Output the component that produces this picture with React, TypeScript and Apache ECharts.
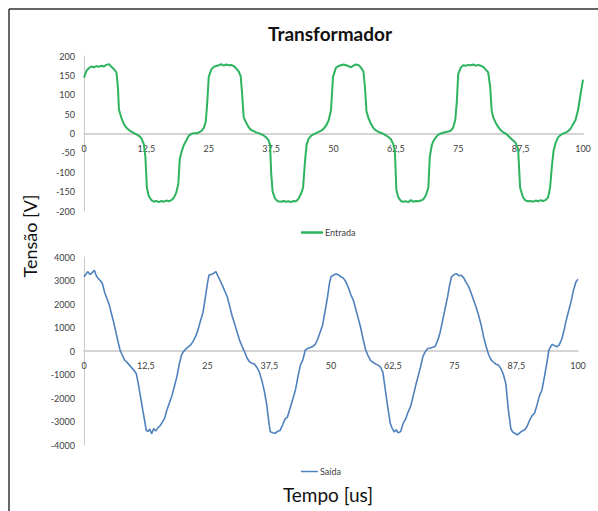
import React, { useEffect, useRef } from "react";
import * as echarts from "echarts";

const TITLE = "Transformador";
const Y_NAME = "Tensão [V]";
const X_NAME = "Tempo [us]";
const SERIES_NAMES = ["Entrada", "Saída"];

const X_MIN = 0;
const X_MAX = 100;
const X_STEP = 12.5;
const TOP_Y = [-200, 200, 50];
const BOT_Y = [-4000, 4000, 1000];

// Entrada: time [us] and voltage [V]
const entradaT = [
  0, 0.5, 1, 1.5, 2, 2.5, 3, 3.5, 4, 4.5, 5, 5.5, 6, 6.5, 6.8, 7, 7.5, 8, 8.5, 9, 9.5, 10, 10.5, 11, 11.5, 12, 12.3, 12.6, 13, 13.5, 14, 14.5, 15, 15.5, 16, 16.5, 17, 17.5, 18, 18.5, 18.9, 19.2, 19.6, 20, 20.5, 21, 21.5, 22, 22.5, 23, 23.5, 24, 24.4, 24.7,
  25, 25.5, 26, 26.5, 27, 27.5, 28, 28.5, 29, 29.5, 30, 30.5, 31, 31.4, 31.7, 32, 32.5, 33, 33.5, 34, 34.5, 35, 35.5, 36, 36.5, 37, 37.3, 37.5, 37.8, 38.3, 38.8, 39.5, 40, 40.5, 41, 41.5, 42, 42.5, 43, 43.5, 43.9, 44.3, 44.6, 45, 45.5, 46, 46.5, 47, 47.5, 48, 48.5, 49, 49.5,
  49.9, 50.5, 51, 51.5, 52, 52.5, 53, 53.5, 54, 54.5, 55, 55.5, 56, 56.3, 56.6, 57, 57.5, 58, 58.5, 59, 59.5, 60, 60.5, 61, 61.5, 62, 62.3, 62.6, 63, 63.5, 64, 64.5, 65, 65.5, 66, 66.5, 67, 67.5, 68, 68.5, 69, 69.3, 69.7, 70, 70.5, 71, 71.5, 72, 72.5, 73, 73.5, 74, 74.4, 74.7,
  75, 75.5, 76, 76.5, 77, 77.5, 78, 78.5, 79, 79.5, 80, 80.5, 81, 81.4, 81.7, 82, 82.5, 83, 83.5, 84, 84.5, 85, 85.5, 86, 86.5, 87, 87.4, 88, 88.5, 89, 89.5, 90, 90.5, 91, 91.5, 92, 92.5, 93, 93.4, 93.8, 94.1, 94.5, 95, 95.5, 96, 96.5, 97, 97.5, 98, 98.5, 99, 99.5, 100,
];
const entradaV = [
  144, 162, 169, 173, 171, 174, 172, 175, 173, 177, 179, 172, 166, 158, 120, 62, 40, 24, 15, 9, 5, 1, -2, -6, -12, -28, -60, -140, -162, -172, -176, -174, -177, -174, -176, -173, -175, -172, -166, -152, -130, -65, -45, -30, -18, -6, -1, 1, 0, 3, 6, 14, 30, 80,
  146, 165, 172, 174, 176, 179, 175, 178, 176, 177, 174, 168, 160, 148, 100, 42, 28, 16, 9, 6, 3, 1, -2, -5, -10, -18, -30, -100, -150, -168, -175, -176, -174, -176, -175, -177, -174, -175, -168, -155, -140, -70, -30, -14, -6, -2, 1, 4, 7, 12, 20, 33, 60,
  146, 170, 174, 176, 178, 176, 174, 171, 175, 178, 177, 170, 160, 120, 59, 40, 25, 14, 8, 4, 2, -1, -5, -9, -15, -28, -45, -145, -165, -174, -176, -175, -177, -172, -176, -174, -175, -173, -170, -160, -140, -60, -30, -20, -10, -3, 0, 2, 4, 5, 7, 16, 35, 80,
  154, 170, 176, 175, 177, 176, 178, 175, 177, 175, 172, 165, 158, 120, 59, 42, 28, 17, 9, 3, 0, -6, -12, -18, -24, -40, -140, -165, -173, -175, -174, -176, -173, -175, -172, -174, -172, -165, -140, -80, -45, -25, -10, -4, 0, 2, 6, 12, 24, 35, 60, 100, 139,
];

// Saída: time [us] and voltage [V]
const saidaT = [
  0, 0.5, 0.8, 1.2, 1.6, 2.1, 2.5, 2.9, 3.3, 3.7, 4.2, 4.7, 5.2, 5.6, 6, 6.5, 7, 7.3, 7.7, 8.2, 8.7, 9.2, 9.7, 10.2, 10.6, 11, 11.4, 11.9, 12.3, 12.6, 13, 13.3, 13.7, 14.1, 14.5, 15, 15.4, 15.8, 16.3, 16.8, 17.3, 17.8, 18.3, 18.8, 19.3, 19.7, 20.1, 20.6, 21.1, 21.6, 22.1, 22.6, 23.1, 23.6, 24.1, 24.6,
  25, 25.3, 25.8, 26.2, 26.7, 27.1, 27.6, 28.1, 28.6, 29, 29.5, 30, 30.5, 31, 31.5, 32, 32.5, 33, 33.5, 34, 34.5, 35, 35.5, 36, 36.5, 37, 37.4, 37.7, 38.2, 38.7, 39.2, 39.7, 40.2, 40.7, 41.2, 41.7, 42.2, 42.8, 43.3, 43.8, 44.3, 44.8, 45.3, 45.8, 46.3, 46.8, 47.3, 47.8, 48.3, 48.8, 49.3, 49.7,
  50, 50.5, 51, 51.5, 52, 52.5, 53, 53.5, 54, 54.5, 55, 55.5, 56, 56.5, 57, 57.5, 58, 58.5, 59, 59.5, 60, 60.5, 61, 61.5, 62, 62.4, 62.8, 63.2, 63.6, 64.1, 64.6, 65.1, 65.6, 66.1, 66.6, 67.1, 67.6, 68.1, 68.6, 69.1, 69.6, 70.1, 70.6, 71.1, 71.6, 72.1, 72.6, 73.1, 73.6, 74, 74.4,
  74.9, 75.4, 75.9, 76.4, 76.9, 77.4, 77.9, 78.4, 78.9, 79.4, 79.9, 80.4, 80.9, 81.4, 81.9, 82.4, 82.9, 83.4, 83.9, 84.4, 84.9, 85.4, 85.9, 86.4, 86.8, 87.2, 87.7, 88.2, 88.7, 89.2, 89.7, 90.2, 90.7, 91.2, 91.7, 92.2, 92.7, 93.2, 93.7, 94.1, 94.5, 94.8, 95.3, 95.8, 96.2, 96.7, 97.2, 97.6, 98.1, 98.6, 99.1, 99.6, 100,
];
const saidaV = [
  3160, 3300, 3380, 3250, 3320, 3440, 3200, 3080, 3000, 2880, 2480, 2200, 1900, 1550, 1230, 760, 300, 40, -150, -380, -480, -600, -720, -850, -970, -1400, -1900, -2520, -3000, -3380, -3420, -3320, -3520, -3300, -3400, -3260, -3180, -3050, -2870, -2500, -2200, -1900, -1500, -1100, -540, -200, -30, 80, 180, 260, 420, 620, 920, 1300, 1650, 2320,
  2900, 3230, 3260, 3300, 3380, 3200, 2980, 2750, 2500, 2310, 1900, 1480, 1150, 800, 450, 200, -30, -300, -460, -520, -550, -700, -900, -1250, -1700, -2300, -3000, -3430, -3480, -3500, -3420, -3380, -3150, -2900, -2800, -2450, -2100, -1660, -1100, -600, -380, 40, 110, 150, 190, 280, 500, 800, 1100, 1700, 2300, 2900,
  3160, 3230, 3280, 3240, 3160, 3100, 2950, 2700, 2400, 2170, 1800, 1400, 1000, 500, 60, -200, -400, -480, -550, -600, -680, -900, -1660, -2400, -3080, -3300, -3440, -3350, -3480, -3430, -3080, -2900, -2600, -2370, -1950, -1500, -1100, -700, -240, -20, 110, 130, 160, 200, 450, 800, 1300, 1800, 2300, 2800, 3160,
  3250, 3290, 3200, 3220, 3100, 2900, 2730, 2450, 2150, 1850, 1500, 1100, 600, 190, -150, -380, -480, -560, -600, -750, -1000, -1400, -2500, -3300, -3450, -3500, -3570, -3480, -3400, -3360, -3200, -2950, -2750, -2650, -2300, -1900, -1660, -1100, -500, 40, 200, 280, 220, 180, 260, 500, 900, 1300, 1700, 2100, 2600, 2950, 3050,
];

const GREEN = "#2eb35e";
const BLUE = "#4f81bd";
const FONT = "Lato, 'Open Sans', sans-serif";

const TOP_GRID = { left: 84, right: 15, top: 56, height: 155 };
const BOT_GRID = { left: 84, right: 20, top: 257, height: 188 };

export default function App() {
  const ref = useRef<HTMLDivElement>(null);

  useEffect(() => {
    if (!ref.current) return;
    const chart = echarts.init(ref.current, null, { renderer: "svg" });
    const fmtX = (v: number) => String(v).replace(".", ",");
    const xAxisCommon = {
      type: "value" as const,
      min: X_MIN,
      max: X_MAX,
      interval: X_STEP,
      axisLine: { onZero: false, lineStyle: { color: "#d4d4d4", width: 2 } },
      axisTick: { show: false },
      splitLine: { show: false },
      axisLabel: { formatter: fmtX, fontSize: 9, color: "#404040", margin: 10, fontFamily: FONT },
    };
    const yAxisCommon = {
      type: "value" as const,
      axisLine: { show: true, lineStyle: { color: "#c8c8c8", width: 1 } },
      axisTick: { show: false },
      splitLine: { show: false },
      axisLabel: { formatter: (v: number) => String(v), fontSize: 9, color: "#404040", margin: 9, fontFamily: FONT },
    };
    chart.setOption({
      animation: false,
      backgroundColor: "#ffffff",
      textStyle: { fontFamily: FONT },
      title: {
        text: TITLE,
        left: 325,
        top: 19,
        textAlign: "center",
        textStyle: { fontSize: 19, fontWeight: "bold", color: "#111", fontFamily: FONT },
      },
      grid: [TOP_GRID, BOT_GRID],
      xAxis: [
        { ...xAxisCommon, gridIndex: 0, offset: -TOP_GRID.height / 2 },
        { ...xAxisCommon, gridIndex: 1, offset: -BOT_GRID.height / 2 },
      ],
      yAxis: [
        { ...yAxisCommon, gridIndex: 0, min: TOP_Y[0], max: TOP_Y[1], interval: TOP_Y[2] },
        { ...yAxisCommon, gridIndex: 1, min: BOT_Y[0], max: BOT_Y[1], interval: BOT_Y[2] },
      ],
      legend: [
        {
          data: [SERIES_NAMES[0]],
          left: 296,
          top: 223,
          icon: "rect",
          itemWidth: 22,
          itemHeight: 2.5,
          itemGap: 2,
          textStyle: { fontSize: 9, color: "#404040", fontFamily: FONT, padding: [0, 0, 0, -3] },
        },
        {
          data: [SERIES_NAMES[1]],
          left: 296,
          top: 462,
          icon: "rect",
          itemWidth: 17,
          itemHeight: 1.5,
          textStyle: { fontSize: 9, color: "#404040", fontFamily: FONT, padding: [0, 0, 0, -3] },
        },
      ],
      graphic: [
        { type: "line", shape: { x1: 9, y1: 9, x2: 598, y2: 9 }, style: { stroke: "#333", lineWidth: 1.5 } },
        { type: "line", shape: { x1: 9, y1: 9, x2: 9, y2: 511 }, style: { stroke: "#333", lineWidth: 1.5 } },
        {
          type: "text",
          x: 30,
          y: 236,
          rotation: Math.PI / 2,
          style: { text: Y_NAME, fontSize: 18, fill: "#111", align: "center", verticalAlign: "middle", fontFamily: FONT },
        },
        {
          type: "text",
          x: 328,
          y: 494,
          style: { text: X_NAME, fontSize: 19, fill: "#111", align: "center", verticalAlign: "middle", fontFamily: FONT },
        },
      ],
      series: [
        {
          name: SERIES_NAMES[0],
          type: "line",
          xAxisIndex: 0,
          yAxisIndex: 0,
          showSymbol: false,
          color: GREEN,
          lineStyle: { width: 2, color: GREEN },
          data: entradaT.map((t, i) => [t, entradaV[i]]),
        },
        {
          name: SERIES_NAMES[1],
          type: "line",
          xAxisIndex: 1,
          yAxisIndex: 1,
          showSymbol: false,
          color: BLUE,
          lineStyle: { width: 1.6, color: BLUE },
          data: saidaT.map((t, i) => [t, saidaV[i]]),
        },
      ],
    });
    return () => chart.dispose();
  }, []);

  return (
    <div
      ref={ref}
      style={{ position: "fixed", left: 0, top: 0, width: 598, height: 511, background: "#fff" }}
    />
  );
}
